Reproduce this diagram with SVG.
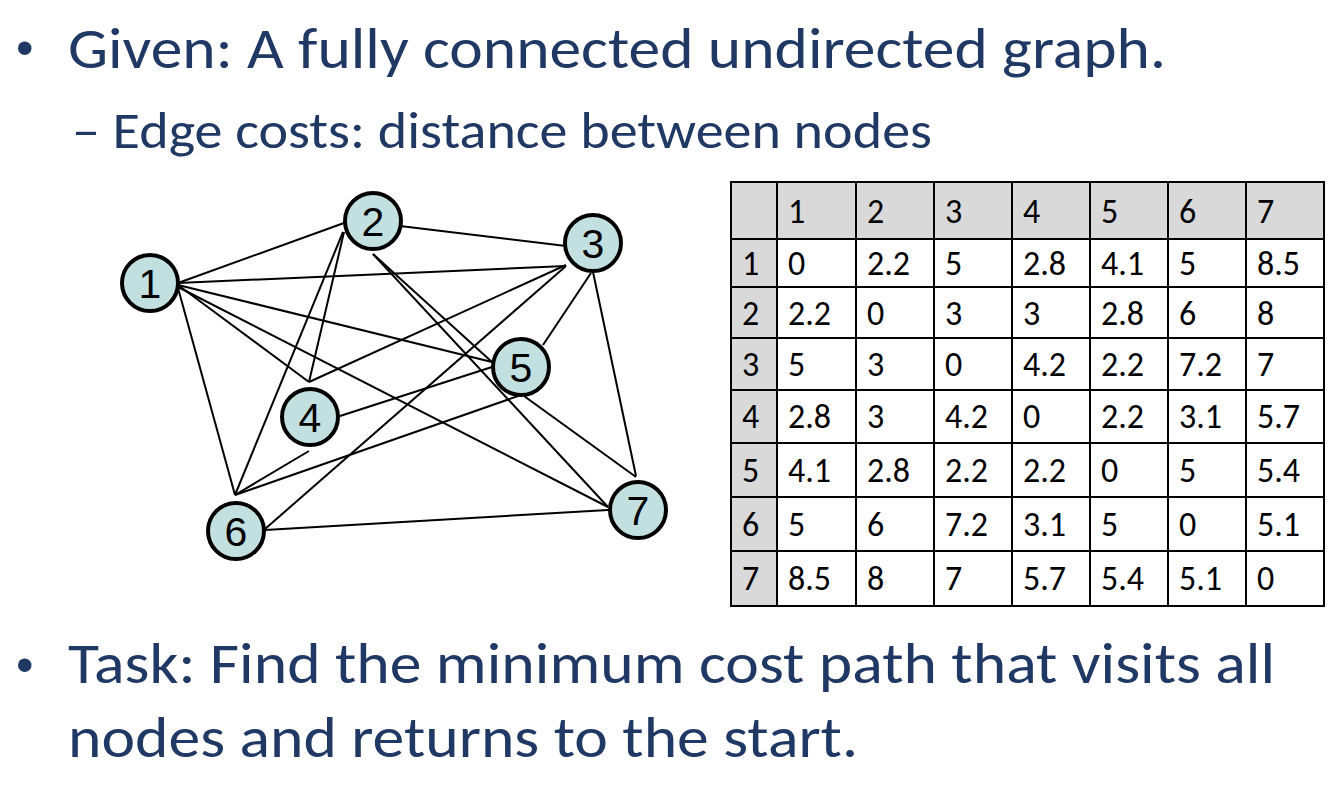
<svg xmlns="http://www.w3.org/2000/svg" width="1340" height="788" viewBox="0 0 1340 788">
  <style>
    .body { font-family: Carlito, Lato, "Open Sans", sans-serif; fill: #1F3864; }
    .big { font-size: 58px; }
    .sub { font-size: 51px; }
    .bullet { font-family: "Liberation Sans", Arial, sans-serif; font-size: 50px; fill: #1F3864; }
    .edge { stroke: #000; stroke-width: 2; fill: none; }
    .node circle { fill: #C3E0E1; stroke: #000; stroke-width: 4; }
    .node text { font-family: "Liberation Sans", Arial, sans-serif; font-size: 41px; fill: #000; text-anchor: middle; }
    .cell { font-family: Carlito, Lato, "Open Sans", sans-serif; font-size: 34px; fill: #000; }
    .hdr { fill: #D9D9D9; }
    .grid { stroke: #000; stroke-width: 2; fill: none; }
  </style>

  <rect width="1340" height="788" fill="#fff"/>

  <!-- heading bullets -->
  <text class="bullet" x="16" y="65">•</text>
  <text class="body big" x="68" y="68" textLength="1098" lengthAdjust="spacingAndGlyphs">Given: A fully connected undirected graph.</text>
  <text class="body sub" x="72" y="148" textLength="860" lengthAdjust="spacingAndGlyphs">– Edge costs: distance between nodes</text>

  <!-- graph edges -->
  <g id="edges" class="edge">
    <line x1="178" y1="283" x2="344" y2="223"/>
    <line x1="178" y1="283" x2="566" y2="266"/>
    <line x1="178" y1="285" x2="309" y2="382"/>
    <line x1="178" y1="285" x2="492" y2="362"/>
    <line x1="178" y1="288" x2="235" y2="495"/>
    <line x1="178" y1="287" x2="608" y2="507"/>
    <line x1="400" y1="226" x2="566" y2="246"/>
    <line x1="344" y1="232" x2="309" y2="382"/>
    <line x1="343" y1="232" x2="235" y2="495"/>
    <line x1="373" y1="254" x2="492" y2="362"/>
    <line x1="373" y1="254" x2="608" y2="507"/>
    <line x1="566" y1="265" x2="309" y2="382"/>
    <line x1="591" y1="273" x2="543" y2="345"/>
    <line x1="566" y1="266" x2="265" y2="529"/>
    <line x1="593" y1="272" x2="636" y2="476"/>
    <line x1="340" y1="416" x2="492" y2="367"/>
    <line x1="309" y1="451" x2="235" y2="495"/>
    <line x1="521" y1="395" x2="235" y2="495"/>
    <line x1="524" y1="396" x2="636" y2="477"/>
    <line x1="265" y1="530" x2="608" y2="510"/>
  </g>

  <!-- graph nodes -->
  <g id="node1" class="node"><circle cx="150" cy="283" r="28"/><text x="150" y="298">1</text></g>
  <g id="node2" class="node"><circle cx="373" cy="221" r="28"/><text x="373" y="236">2</text></g>
  <g id="node3" class="node"><circle cx="593" cy="243" r="28"/><text x="593" y="258">3</text></g>
  <g id="node4" class="node"><circle cx="310" cy="417" r="28"/><text x="310" y="432">4</text></g>
  <g id="node5" class="node"><circle cx="521" cy="367" r="28"/><text x="521" y="382">5</text></g>
  <g id="node6" class="node"><circle cx="236" cy="531" r="28"/><text x="236" y="546">6</text></g>
  <g id="node7" class="node"><circle cx="638" cy="510" r="28"/><text x="638" y="525">7</text></g>

  <!-- distance table -->
  <g id="table">
    <rect class="hdr" x="731" y="182" width="593" height="57"/>
    <rect class="hdr" x="731" y="239" width="46" height="367"/>
    <g class="grid">
      <rect x="731" y="182" width="593" height="424"/>
      <line x1="777" y1="182" x2="777" y2="606"/>
      <line x1="856" y1="182" x2="856" y2="606"/>
      <line x1="934" y1="182" x2="934" y2="606"/>
      <line x1="1012" y1="182" x2="1012" y2="606"/>
      <line x1="1090" y1="182" x2="1090" y2="606"/>
      <line x1="1168" y1="182" x2="1168" y2="606"/>
      <line x1="1246" y1="182" x2="1246" y2="606"/>
      <line x1="731" y1="239" x2="1324" y2="239"/>
      <line x1="731" y1="287" x2="1324" y2="287"/>
      <line x1="731" y1="338" x2="1324" y2="338"/>
      <line x1="731" y1="390" x2="1324" y2="390"/>
      <line x1="731" y1="443" x2="1324" y2="443"/>
      <line x1="731" y1="497" x2="1324" y2="497"/>
      <line x1="731" y1="551" x2="1324" y2="551"/>
    </g>
    <g class="cell">
      <!-- header row -->
      <text x="788" y="223">1</text><text x="867" y="223">2</text><text x="945" y="223">3</text><text x="1023" y="223">4</text><text x="1101" y="223">5</text><text x="1179" y="223">6</text><text x="1257" y="223">7</text>
      <!-- row 1 -->
      <text x="742" y="275">1</text><text x="788" y="275">0</text><text x="867" y="275">2.2</text><text x="945" y="275">5</text><text x="1023" y="275">2.8</text><text x="1101" y="275">4.1</text><text x="1179" y="275">5</text><text x="1257" y="275">8.5</text>
      <!-- row 2 -->
      <text x="742" y="325">2</text><text x="788" y="325">2.2</text><text x="867" y="325">0</text><text x="945" y="325">3</text><text x="1023" y="325">3</text><text x="1101" y="325">2.8</text><text x="1179" y="325">6</text><text x="1257" y="325">8</text>
      <!-- row 3 -->
      <text x="742" y="376">3</text><text x="788" y="376">5</text><text x="867" y="376">3</text><text x="945" y="376">0</text><text x="1023" y="376">4.2</text><text x="1101" y="376">2.2</text><text x="1179" y="376">7.2</text><text x="1257" y="376">7</text>
      <!-- row 4 -->
      <text x="742" y="428">4</text><text x="788" y="428">2.8</text><text x="867" y="428">3</text><text x="945" y="428">4.2</text><text x="1023" y="428">0</text><text x="1101" y="428">2.2</text><text x="1179" y="428">3.1</text><text x="1257" y="428">5.7</text>
      <!-- row 5 -->
      <text x="742" y="482">5</text><text x="788" y="482">4.1</text><text x="867" y="482">2.8</text><text x="945" y="482">2.2</text><text x="1023" y="482">2.2</text><text x="1101" y="482">0</text><text x="1179" y="482">5</text><text x="1257" y="482">5.4</text>
      <!-- row 6 -->
      <text x="742" y="536">6</text><text x="788" y="536">5</text><text x="867" y="536">6</text><text x="945" y="536">7.2</text><text x="1023" y="536">3.1</text><text x="1101" y="536">5</text><text x="1179" y="536">0</text><text x="1257" y="536">5.1</text>
      <!-- row 7 -->
      <text x="742" y="590">7</text><text x="788" y="590">8.5</text><text x="867" y="590">8</text><text x="945" y="590">7</text><text x="1023" y="590">5.7</text><text x="1101" y="590">5.4</text><text x="1179" y="590">5.1</text><text x="1257" y="590">0</text>
    </g>
  </g>

  <!-- task bullet -->
  <text class="bullet" x="16" y="682">•</text>
  <text class="body big" x="68" y="683" textLength="1207" lengthAdjust="spacingAndGlyphs">Task: Find the minimum cost path that visits all</text>
  <text class="body big" x="68" y="757" textLength="790" lengthAdjust="spacingAndGlyphs">nodes and returns to the start.</text>
</svg>
